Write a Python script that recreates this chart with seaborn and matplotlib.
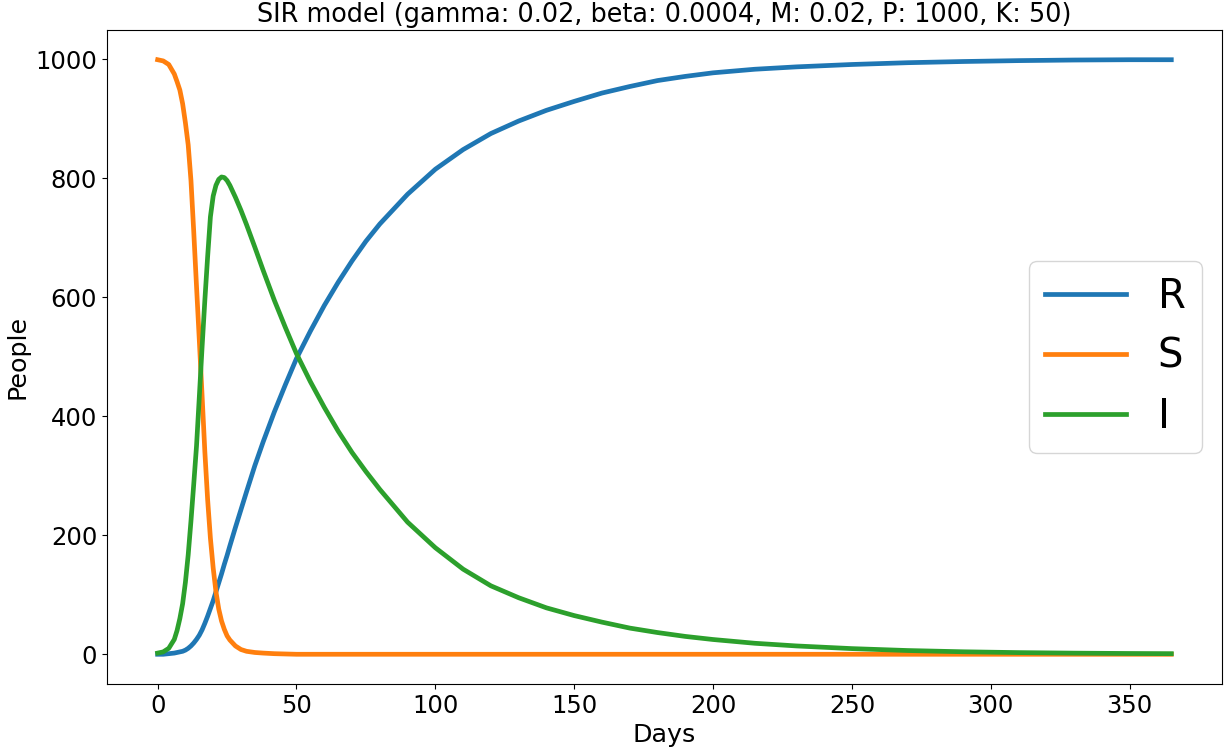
import pandas as pd
import matplotlib
matplotlib.use("Agg")
import matplotlib.pyplot as plt
import seaborn as sns

days = [0, 2, 4, 6, 7, 8, 9, 10, 11, 12, 13, 14, 15, 16, 17, 18, 19, 20, 21, 22,
        23, 24, 25, 26, 28, 30, 32, 35, 38, 42, 46, 50, 55, 60, 65, 70, 75, 80, 90,
        100, 110, 120, 130, 140, 150, 160, 170, 180, 190, 200, 215, 230, 250, 270,
        290, 310, 330, 350, 365]

# values
recovered = [0, 0, 1, 2, 3, 4, 5, 7, 10, 14, 19, 25, 32, 41, 52, 64, 77, 90, 105, 120,
             135, 151, 166, 182, 213, 243, 273, 317, 357, 407, 453, 497, 543, 586, 625,
             661, 694, 723, 773, 815, 848, 875, 896, 914, 929, 943, 954, 964, 971, 977,
             983, 987, 991, 994, 996, 997.5, 998.5, 999, 999]
susceptible = [999, 997, 991, 975, 962, 948, 925, 893, 856, 796, 710, 618, 528, 435, 340,
               260, 195, 145, 105, 76, 56, 42, 31, 24, 14, 8, 5, 3, 2, 1, 0.5, 0, 0, 0, 0,
               0, 0, 0, 0, 0, 0, 0, 0, 0, 0, 0, 0, 0, 0, 0, 0, 0, 0, 0, 0, 0, 0, 0, 0]
infected = [2, 4, 10, 25, 40, 60, 85, 121, 167, 224, 286, 350, 432, 516, 595, 668, 735,
            770, 788, 798, 802, 801, 796, 788, 768, 746, 722, 684, 645, 595, 549, 505, 458,
            415, 375, 339, 307, 277, 222, 179, 143, 115, 95, 78, 65, 54, 44, 36.5, 30, 24.8,
            18.5, 14, 9.5, 6.3, 4.2, 2.8, 1.9, 1.3, 1.0]

df = pd.DataFrame({"Days": days, "R": recovered, "S": susceptible, "I": infected})

fig = plt.figure(figsize=(12.28, 7.5), dpi=100)
ax = fig.add_axes([0.0871, 0.0880, 0.9080, 0.8720])

sns.lineplot(data=df, x="Days", y="R", color="#1f77b4", linewidth=3.4, label="R", ax=ax)
sns.lineplot(data=df, x="Days", y="S", color="#ff7f0e", linewidth=3.4, label="S", ax=ax)
sns.lineplot(data=df, x="Days", y="I", color="#2ca02c", linewidth=3.4, label="I", ax=ax)

ax.set_title("SIR model (gamma: 0.02, beta: 0.0004, M: 0.02, P: 1000, K: 50)", fontsize=18.4)
ax.set_xlabel("Days", fontsize=18.3)
ax.set_ylabel("People", fontsize=18.3)
ax.tick_params(labelsize=17.5)
ax.legend(loc="center right", fontsize=29)

fig.savefig("out.png", dpi=100)
